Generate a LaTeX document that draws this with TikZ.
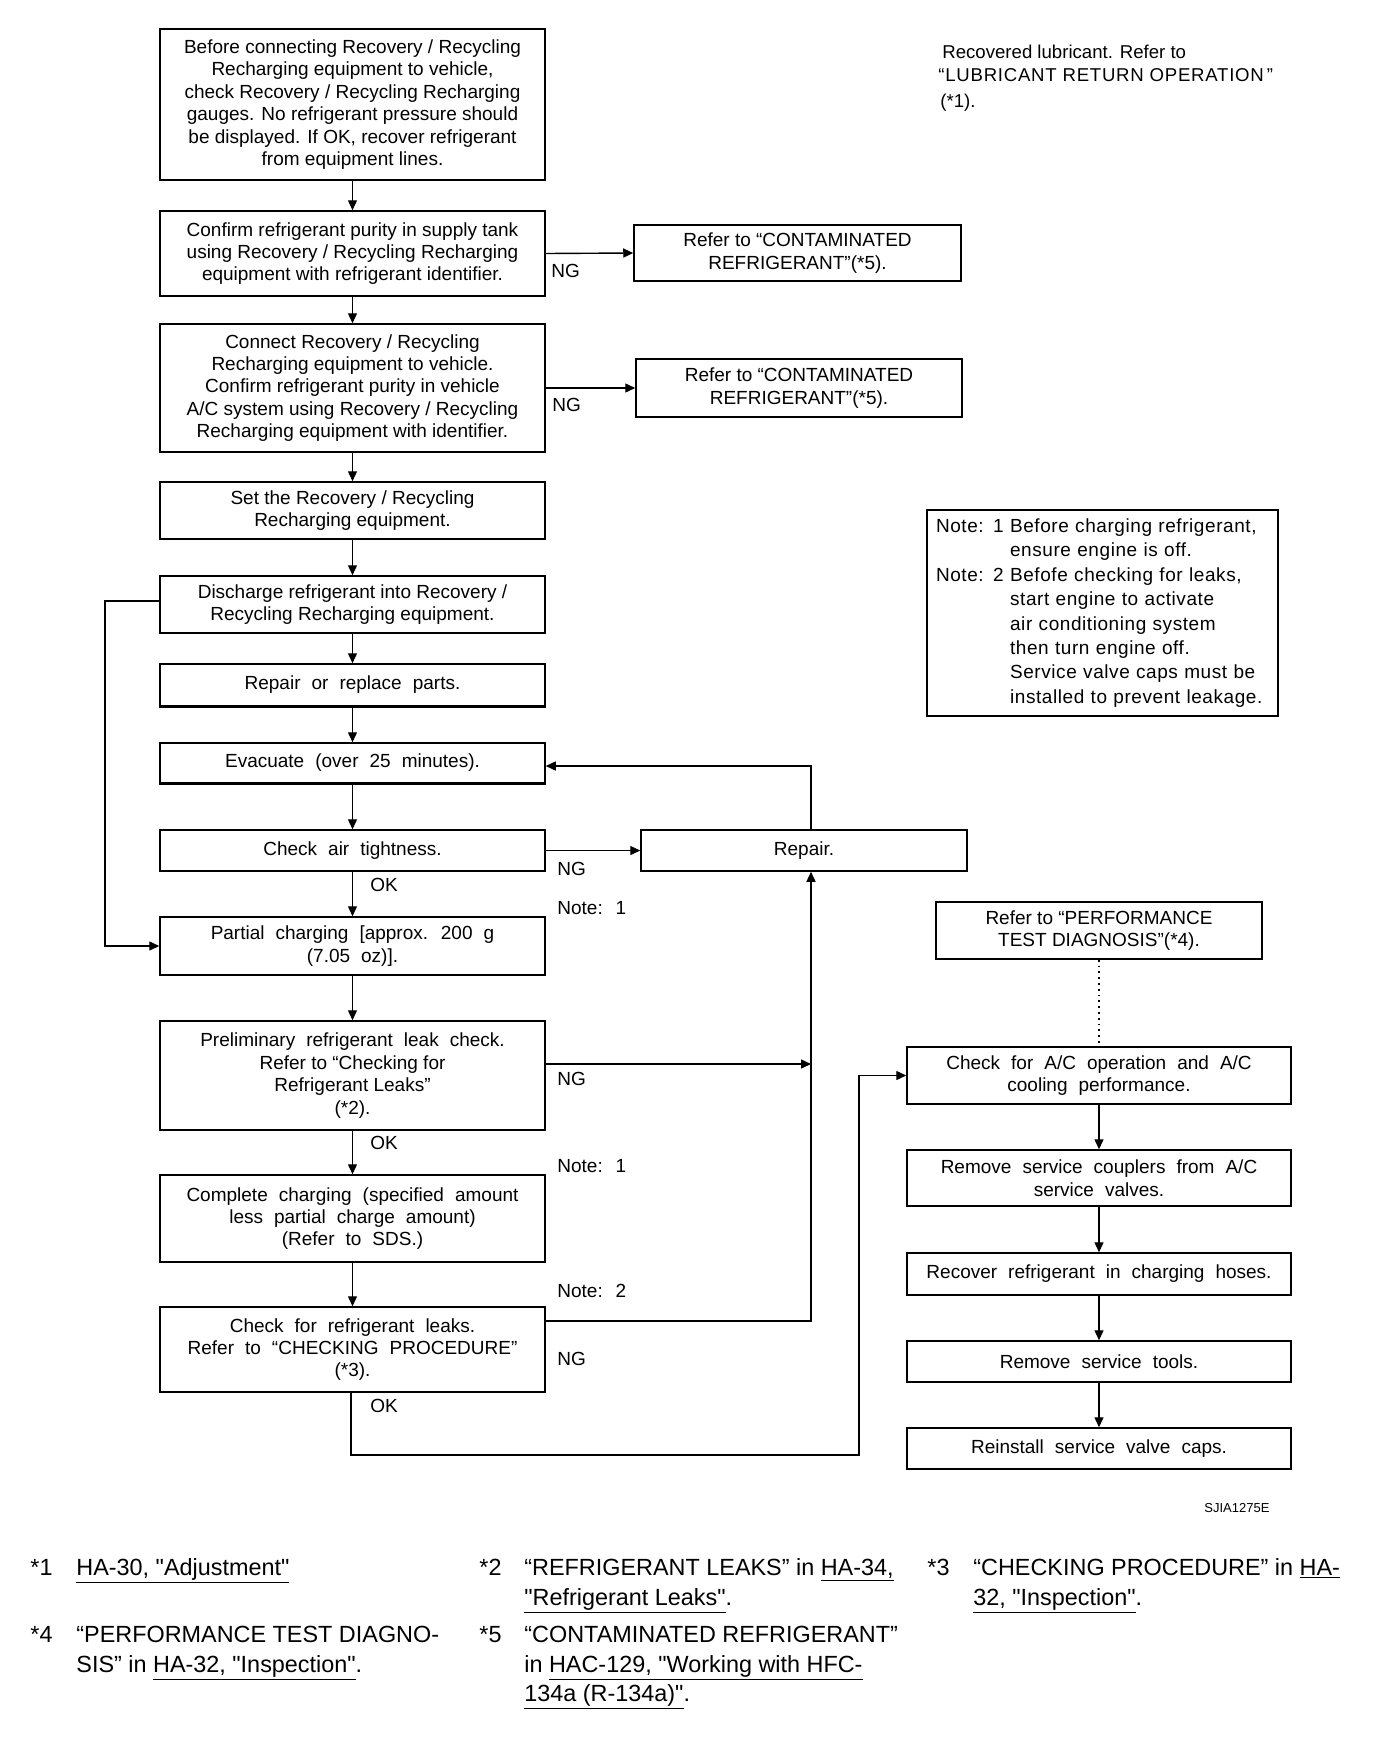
\documentclass[tikz,border=0pt]{standalone}
\usepackage{fontspec}
\setmainfont{Liberation Sans}
\newfontfamily\notefont[LetterSpace=3]{Liberation Sans}
\newfontfamily\fnfont[Ligatures=ResetAll]{Liberation Sans}
\newcommand\wsp{\spaceskip=0.58em\relax}
\newcommand\nsp{\spaceskip=0.55em\relax}
\usetikzlibrary{arrows.meta}
\tikzset{
 box/.style={draw, line width=0.75pt, inner sep=0pt, align=center, font=\fontsize{9.5}{11.2}\selectfont},
 wbox/.style={box, font=\fontsize{9.5}{11.2}\selectfont\wsp},
 arr/.style={draw, line width=0.7pt, -{Triangle[length=5pt,width=4.5pt]}},
 lbl/.style={anchor=west, inner sep=0pt, font=\fontsize{9.5}{11}\selectfont\wsp},
 fn/.style={anchor=base west, inner sep=0pt, font=\fnfont\fontsize{11.7}{15}\selectfont},
 trt/.style={anchor=west, inner sep=0pt, font=\fontsize{9.3}{12}\selectfont},
 notebox/.style={draw, line width=0.75pt, inner xsep=4.5pt, inner ysep=0pt, align=left, font=\notefont\fontsize{9.5}{12.2}\selectfont\nsp},
}
\begin{document}
\begin{tikzpicture}[x=0.5pt,y=-0.5pt]
\useasboundingbox[fill=white] (0,0) rectangle (1392,1756);

% main column
\node[box, minimum width=192.5pt, minimum height=75.5pt] (b1) at (352.5,104.5) {Before connecting Recovery / Recycling\\ Recharging equipment to vehicle,\\ check Recovery / Recycling Recharging\\ gauges. No refrigerant pressure should\\ be displayed. If OK, recover refrigerant\\ from equipment lines.};
\node[box, minimum width=192.5pt, minimum height=42.5pt] (b2) at (352.5,253.5) {Confirm refrigerant purity in supply tank\\ using Recovery / Recycling Recharging\\ equipment with refrigerant identifier.};
\node[box, minimum width=192.5pt, minimum height=64pt] (b3) at (352.5,388) {Connect Recovery / Recycling\\ Recharging equipment to vehicle.\\ Confirm refrigerant purity in vehicle\\ A/C system using Recovery / Recycling\\ Recharging equipment with identifier.};
\node[box, minimum width=192.5pt, minimum height=28.5pt] (b4) at (352.5,510.5) {Set the Recovery / Recycling\\ Recharging equipment.};
\node[box, minimum width=192.5pt, minimum height=28.5pt] (b5) at (352.5,604.5) {Discharge refrigerant into Recovery /\\ Recycling Recharging equipment.};
\node[wbox, minimum width=192.5pt, minimum height=21pt] (b6) at (352.5,685) {Repair or replace parts.};
\node[wbox, minimum width=192.5pt, minimum height=20pt] (b7) at (352.5,763) {Evacuate (over 25 minutes).};
\node[wbox, minimum width=192.5pt, minimum height=20.5pt] (b8) at (352.5,850.5) {Check air tightness.};
\node[wbox, minimum width=192.5pt, minimum height=29pt] (b9) at (352.5,946) {Partial charging [approx. 200 g\\ (7.05 oz)].};
\node[box, minimum width=192.5pt, minimum height=54.5pt] (b10) at (352.5,1075.5) {{\wsp Preliminary refrigerant leak check.}\\ Refer to “Checking for\\ Refrigerant Leaks”\\ (*2).};
\node[wbox, minimum width=192.5pt, minimum height=43.5pt] (b11) at (352.5,1218.5) {Complete charging (specified amount\\ less partial charge amount)\\ (Refer to SDS.)};
\node[wbox, minimum width=192.5pt, minimum height=42.5pt] (b12) at (352.5,1349.5) {Check for refrigerant leaks.\\ Refer to “CHECKING PROCEDURE”\\ (*3).};
\draw[line width=1.5pt] (b6.south west) -- (b6.south east);
\draw[line width=1.5pt] (b7.south west) -- (b7.south east);

% side boxes
\node[box, minimum width=163.5pt, minimum height=28pt] (ca) at (797.5,253) {Refer to “CONTAMINATED\\ REFRIGERANT”(*5).};
\node[box, minimum width=163pt, minimum height=29pt] (cb) at (799,388) {Refer to “CONTAMINATED\\ REFRIGERANT”(*5).};
\node[box, minimum width=163pt, minimum height=20.5pt] (rep) at (804,850.5) {Repair.};

% right column
\node[box, minimum width=163pt, minimum height=28.5pt] (perf) at (1099,930.5) {Refer to “PERFORMANCE\\ TEST DIAGNOSIS”(*4).};
\node[wbox, minimum width=192pt, minimum height=28.5pt] (r1) at (1099,1075.5) {Check for A/C operation and A/C\\ cooling performance.};
\node[wbox, minimum width=192pt, minimum height=28pt] (r2) at (1099,1178) {Remove service couplers from A/C\\ service valves.};
\node[wbox, minimum width=192pt, minimum height=21pt] (r3) at (1099,1274) {Recover refrigerant in charging hoses.};
\node[wbox, minimum width=192pt, minimum height=20.5pt] (r4) at (1099,1361.5) {Remove service tools.};
\node[wbox, minimum width=192pt, minimum height=20.5pt] (r5) at (1099,1448.5) {Reinstall service valve caps.};

% note box
\node[notebox, minimum width=175.5pt, minimum height=103pt, text width=166.5pt] (note) at (1102.5,613) {Note: 1 Before charging refrigerant,\\ \phantom{Note: 1 }ensure engine is off.\\ Note: 2 Befofe checking for leaks,\\ \phantom{Note: 2 }start engine to activate\\ \phantom{Note: 2 }air conditioning system\\ \phantom{Note: 2 }then turn engine off.\\ \phantom{Note: 2 }Service valve caps must be\\ \phantom{Note: 2 }installed to prevent leakage.};

% top right text
\node[trt] (t1) at (942,52) {Recovered lubricant. Refer to};
\node[trt] (t2) at (938,75) {\addfontfeature{LetterSpace=4}“LUBRICANT RETURN OPERATION\,”};
\node[trt] (t3) at (940,103) {(*1).};

% vertical arrows
\foreach \a/\b in {b1/b2,b2/b3,b3/b4,b4/b5,b5/b6,b6/b7,b7/b8,b8/b9,b9/b10,b10/b11,b11/b12,r1/r2,r2/r3,r3/r4,r4/r5}
  \draw[arr] (\a) -- (\b);

% NG arrows
\draw[arr] (b2.east) -- (ca.west);
\draw[arr] (b3.east) -- (cb.west);
\draw[arr] (b8.east) -- (rep.west);

\coordinate (ev) at (811,766);
\draw[arr] (rep.north -| ev) -- (ev) -- (b7.east |- ev);

\coordinate (lx) at (105,601);
\draw[arr] (b5.west |- lx) -- (lx) |- (b9.west);

\coordinate (ng1) at (811,1064);
\draw[arr] (b10.east |- ng1) -- (ng1);
\coordinate (ng2) at (811,1321);
\draw[arr] (b12.east |- ng2) -- (ng2) -- (rep.south -| ng2);

\coordinate (ok1) at (351,1455);
\coordinate (ok2) at (859,1455);
\draw[arr] (b12.south -| ok1) -- (ok1) -- (ok2) |- (r1.west);

\draw[dotted, line width=0.9pt] (perf) -- (r1);

% labels
\node[lbl] (l1) at (551,271) {NG};
\node[lbl] (l2) at (552,405) {NG};
\node[lbl] (l3) at (557,869) {NG};
\node[lbl] (l4) at (370,885) {OK};
\node[lbl] (l5) at (557,908) {Note: 1};
\node[lbl] (l6) at (557,1079) {NG};
\node[lbl] (l7) at (370,1143) {OK};
\node[lbl] (l8) at (557,1166) {Note: 1};
\node[lbl] (l9) at (557,1291) {Note: 2};
\node[lbl] (l10) at (557,1359) {NG};
\node[lbl] (l11) at (370,1406) {OK};

\node[anchor=west, inner sep=0pt, font=\fontsize{6.5}{7}\selectfont] (code) at (1204,1508) {SJIA1275E};

% footnotes
\node[fn] (f1a) at (30,1575) {*1};
\node[fn] (f1b) at (76,1575) {\underline{HA-30, "Adjustment"}};
\node[fn] (f2a) at (479,1575) {*2};
\node[fn] (f2b) at (524,1575) {“REFRIGERANT LEAKS” in \underline{HA-34,}};
\node[fn] (f2c) at (524,1605) {\underline{"Refrigerant Leaks"}.};
\node[fn] (f3a) at (927,1575) {*3};
\node[fn] (f3b) at (973,1575) {“CHECKING PROCEDURE” in \underline{HA-}};
\node[fn] (f3c) at (973,1605) {\underline{32, "Inspection"}.};
\node[fn] (f4a) at (30,1642) {*4};
\node[fn] (f4b) at (76,1642) {“PERFORMANCE TEST DIAGNO-};
\node[fn] (f4c) at (76,1672) {SIS” in \underline{HA-32, "Inspection"}.};
\node[fn] (f5a) at (479,1642) {*5};
\node[fn] (f5b) at (524,1642) {“CONTAMINATED REFRIGERANT”};
\node[fn] (f5c) at (524,1672) {in \underline{HAC-129, "Working with HFC-}};
\node[fn] (f5d) at (524,1701) {\underline{134a (R-134a)"}.};
\end{tikzpicture}
\end{document}
